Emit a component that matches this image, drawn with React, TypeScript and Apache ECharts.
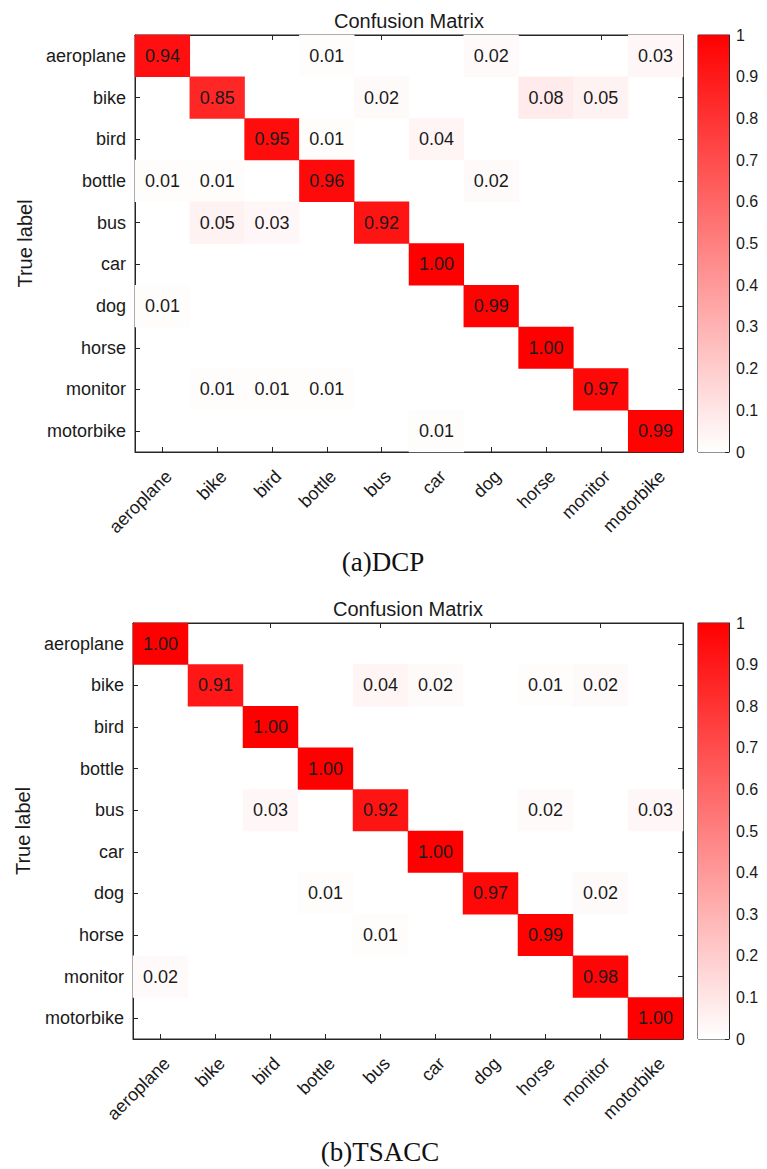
import React, { useEffect, useRef } from "react";
import * as echarts from "echarts";

const categories = ["aeroplane", "bike", "bird", "bottle", "bus", "car", "dog", "horse", "monitor", "motorbike"];

// rows = true label, columns = predicted label
const dcpMatrix = [
  [0.94, 0, 0, 0.01, 0, 0, 0.02, 0, 0, 0.03],
  [0, 0.85, 0, 0, 0.02, 0, 0, 0.08, 0.05, 0],
  [0, 0, 0.95, 0.01, 0, 0.04, 0, 0, 0, 0],
  [0.01, 0.01, 0, 0.96, 0, 0, 0.02, 0, 0, 0],
  [0, 0.05, 0.03, 0, 0.92, 0, 0, 0, 0, 0],
  [0, 0, 0, 0, 0, 1.0, 0, 0, 0, 0],
  [0.01, 0, 0, 0, 0, 0, 0.99, 0, 0, 0],
  [0, 0, 0, 0, 0, 0, 0, 1.0, 0, 0],
  [0, 0.01, 0.01, 0.01, 0, 0, 0, 0, 0.97, 0],
  [0, 0, 0, 0, 0, 0.01, 0, 0, 0, 0.99],
];

const tsaccMatrix = [
  [1.0, 0, 0, 0, 0, 0, 0, 0, 0, 0],
  [0, 0.91, 0, 0, 0.04, 0.02, 0, 0.01, 0.02, 0],
  [0, 0, 1.0, 0, 0, 0, 0, 0, 0, 0],
  [0, 0, 0, 1.0, 0, 0, 0, 0, 0, 0],
  [0, 0, 0.03, 0, 0.92, 0, 0, 0.02, 0, 0.03],
  [0, 0, 0, 0, 0, 1.0, 0, 0, 0, 0],
  [0, 0, 0, 0.01, 0, 0, 0.97, 0, 0.02, 0],
  [0, 0, 0, 0, 0.01, 0, 0, 0.99, 0, 0],
  [0.02, 0, 0, 0, 0, 0, 0, 0, 0.98, 0],
  [0, 0, 0, 0, 0, 0, 0, 0, 0, 1.0],
];

const chartTitle = "Confusion Matrix";
const yAxisName = "True label";
const captions = ["(a)DCP", "(b)TSACC"];
const colorbarMin = 0;
const colorbarMax = 1;
const colorbarStep = 0.1;

const SANS = "'Liberation Sans', Arial, Helvetica, sans-serif";
const SERIF = "'Liberation Serif', 'Times New Roman', serif";
const AXIS_COLOR = "#262626";
const TEXT_COLOR = "#1a1a1a";

function toData(m: number[][]) {
  const out: [number, number, number][] = [];
  m.forEach((row, r) =>
    row.forEach((v, c) => {
      if (v > 0) out.push([c, r, v]);
    })
  );
  return out;
}

const grids = [
  { heat: { left: 135, top: 35, width: 548, height: 417 }, cb: { left: 698, top: 35, width: 31, height: 417 } },
  { heat: { left: 133, top: 623, width: 550, height: 416 }, cb: { left: 698, top: 623, width: 31, height: 416 } },
];

export default function App() {
  const ref = useRef<HTMLDivElement>(null);
  useEffect(() => {
    document.body.style.margin = "0";
    if (!ref.current) return;
    const chart = echarts.init(ref.current, null, { renderer: "svg" });

    const gridOpts: any[] = [];
    const xAxes: any[] = [];
    const yAxes: any[] = [];
    const series: any[] = [];
    const visualMaps: any[] = [];
    const titles: any[] = [];

    const matrices = [dcpMatrix, tsaccMatrix];

    grids.forEach((g, i) => {
      const hg = gridOpts.length;
      gridOpts.push({ ...g.heat, show: true, borderColor: AXIS_COLOR, borderWidth: 1, backgroundColor: "#fff", containLabel: false });
      const cg = gridOpts.length;
      gridOpts.push({ ...g.cb, show: true, borderColor: AXIS_COLOR, borderWidth: 1, containLabel: false });

      const xBottom = xAxes.length;
      xAxes.push({
        type: "category",
        gridIndex: hg,
        data: categories,
        position: "bottom",
        axisLine: { show: true, lineStyle: { color: AXIS_COLOR, width: 1 } },
        axisTick: { show: true, inside: true, alignWithLabel: true, length: 5, lineStyle: { color: AXIS_COLOR } },
        axisLabel: {
          rotate: 45,
          margin: 15,
          verticalAlign: "top",
          fontSize: 18,
          fontFamily: SANS,
          color: TEXT_COLOR,
          interval: 0,
        },
        splitLine: { show: false },
      });
      xAxes.push({
        type: "category",
        gridIndex: hg,
        data: categories,
        position: "top",
        axisLine: { show: true, lineStyle: { color: AXIS_COLOR, width: 1 } },
        axisTick: { show: true, inside: true, alignWithLabel: true, length: 5, lineStyle: { color: AXIS_COLOR } },
        axisLabel: { show: false },
        splitLine: { show: false },
      });
      const xCb = xAxes.length;
      xAxes.push({
        type: "category",
        gridIndex: cg,
        data: ["c"],
        show: false,
        boundaryGap: true,
      });

      const yLeft = yAxes.length;
      yAxes.push({
        type: "category",
        gridIndex: hg,
        data: categories,
        inverse: true,
        position: "left",
        name: yAxisName,
        nameLocation: "middle",
        nameRotate: 90,
        nameGap: 99,
        nameTextStyle: { fontSize: 20, fontFamily: SANS, color: TEXT_COLOR },
        axisLine: { show: true, lineStyle: { color: AXIS_COLOR, width: 1 } },
        axisTick: { show: true, inside: true, alignWithLabel: true, length: 5, lineStyle: { color: AXIS_COLOR } },
        axisLabel: { margin: 9, fontSize: 18, fontFamily: SANS, color: TEXT_COLOR, interval: 0 },
        splitLine: { show: false },
      });
      yAxes.push({
        type: "category",
        gridIndex: hg,
        data: categories,
        inverse: true,
        position: "right",
        axisLine: { show: true, lineStyle: { color: AXIS_COLOR, width: 1 } },
        axisTick: { show: true, inside: true, alignWithLabel: true, length: 5, lineStyle: { color: AXIS_COLOR } },
        axisLabel: { show: false },
        splitLine: { show: false },
      });
      const yCb = yAxes.length;
      yAxes.push({
        type: "value",
        gridIndex: cg,
        min: colorbarMin,
        max: colorbarMax,
        interval: colorbarStep,
        position: "right",
        axisLine: { show: true, lineStyle: { color: AXIS_COLOR, width: 1 } },
        axisTick: { show: true, inside: true, length: 4, lineStyle: { color: AXIS_COLOR } },
        axisLabel: {
          margin: 7,
          fontSize: 16,
          fontFamily: SANS,
          color: TEXT_COLOR,
          formatter: (v: number) => String(Math.round(v * 10) / 10),
        },
        splitLine: { show: false },
      });

      const heatIdx = series.length;
      series.push({
        type: "heatmap",
        xAxisIndex: xBottom,
        yAxisIndex: yLeft,
        data: toData(matrices[i]),
        label: {
          show: true,
          fontSize: 18,
          fontFamily: SANS,
          color: TEXT_COLOR,
          formatter: (p: any) => (p.value[2] as number).toFixed(2),
        },
        itemStyle: { borderWidth: 0 },
        emphasis: { disabled: true },
      });
      series.push({
        type: "bar",
        xAxisIndex: xCb,
        yAxisIndex: yCb,
        data: [colorbarMax],
        barWidth: "100%",
        barCategoryGap: 0,
        silent: true,
        itemStyle: {
          color: new echarts.graphic.LinearGradient(0, 0, 0, 1, [
            { offset: 0, color: "#ff0000" },
            { offset: 1, color: "#ffffff" },
          ]),
        },
      });
      visualMaps.push({
        type: "continuous",
        seriesIndex: heatIdx,
        min: colorbarMin,
        max: colorbarMax,
        show: false,
        inRange: { color: ["#ffffff", "#ff0000"] },
      });

      titles.push({
        text: chartTitle,
        left: g.heat.left + g.heat.width / 2,
        top: g.heat.top - 24,
        textAlign: "center",
        padding: 0,
        textStyle: { fontSize: 20, fontWeight: "normal", fontFamily: SANS, color: TEXT_COLOR, lineHeight: 20 },
      });
    });

    titles.push({
      text: captions[0],
      left: 383,
      top: 548,
      textAlign: "center",
      padding: 0,
      textStyle: { fontSize: 27, fontWeight: "normal", fontFamily: SERIF, color: "#111", lineHeight: 27 },
    });
    titles.push({
      text: captions[1],
      left: 380,
      top: 1138,
      textAlign: "center",
      padding: 0,
      textStyle: { fontSize: 27, fontWeight: "normal", fontFamily: SERIF, color: "#111", lineHeight: 27 },
    });

    chart.setOption({
      animation: false,
      backgroundColor: "#fff",
      title: titles,
      grid: gridOpts,
      xAxis: xAxes,
      yAxis: yAxes,
      visualMap: visualMaps,
      series,
    });
    return () => chart.dispose();
  }, []);
  return <div ref={ref} style={{ width: 767, height: 1169 }} />;
}
